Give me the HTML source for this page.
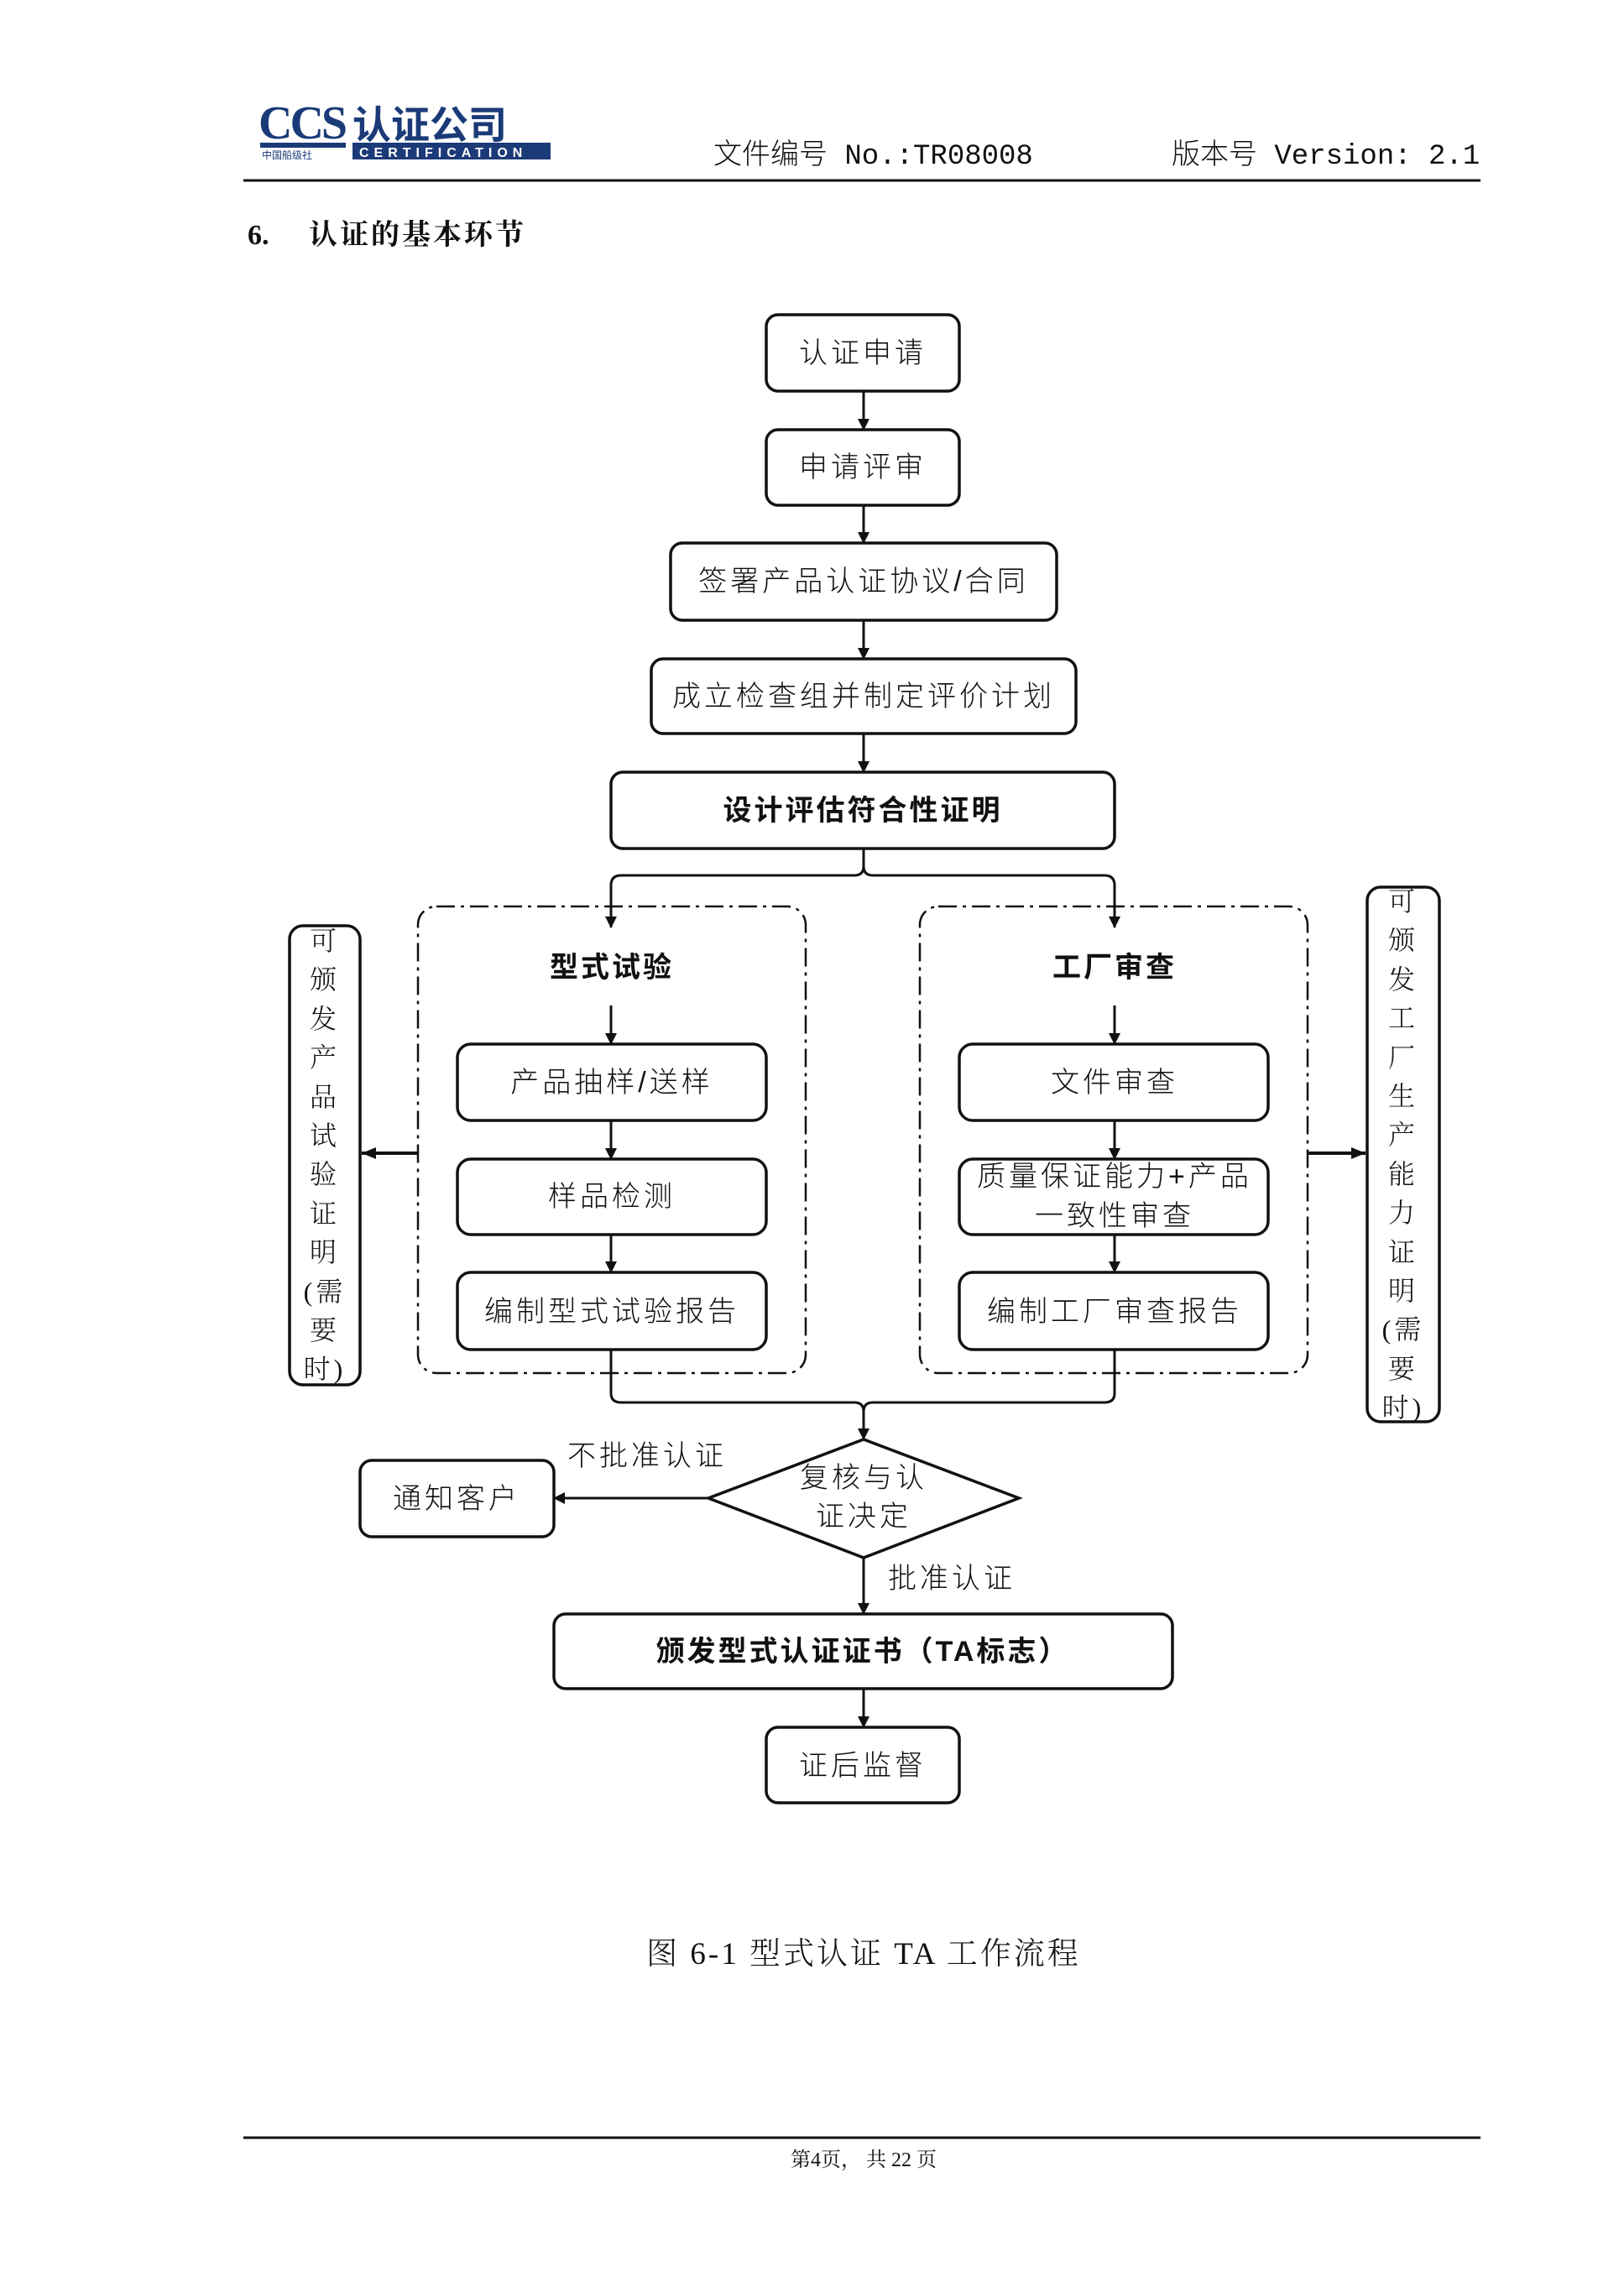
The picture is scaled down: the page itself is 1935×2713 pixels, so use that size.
<!DOCTYPE html>
<html><head><meta charset="utf-8"><style>
html,body{margin:0;padding:0;background:#fff;}
svg{display:block;}
text{font-family:"Liberation Serif","Noto Serif CJK SC","Noto Sans CJK SC",serif;fill:#111;}
.t{font-family:"Liberation Sans","Noto Sans CJK SC",sans-serif;font-size:34px;letter-spacing:4px;font-weight:300;}
.b{font-family:"Liberation Sans","Noto Sans CJK SC",sans-serif;font-size:34px;font-weight:700;letter-spacing:3px;}
.box{fill:#fff;stroke:#111;stroke-width:3.5;}
.ln{stroke:#111;stroke-width:3;fill:none;}
.dash{fill:none;stroke:#111;stroke-width:2.5;stroke-dasharray:22 7 4 7;}
</style></head><body>
<svg width="1935" height="2713" viewBox="0 0 1935 2713" xmlns="http://www.w3.org/2000/svg">
<defs><marker id="a" markerWidth="14" markerHeight="16" refX="13" refY="7" orient="auto" markerUnits="userSpaceOnUse"><path d="M0,0 L14,7 L0,14 z" fill="#111"/></marker>
<marker id="ar" markerWidth="18" markerHeight="18" refX="17" refY="9" orient="auto" markerUnits="userSpaceOnUse"><path d="M0,2 L17,9 L0,16 z" fill="#111"/></marker></defs>

<!-- header -->
<text x="308" y="165" style="font-family:'Liberation Serif',serif;font-weight:700;font-size:56px;fill:#1b3a78;letter-spacing:-3px">CCS</text>
<text x="420" y="165" style="font-family:'Noto Sans CJK SC',sans-serif;font-weight:700;font-size:46px;fill:#1b3a78">认证公司</text>
<rect x="310" y="170" width="102" height="6" fill="#1b3a78"/>
<text x="312" y="189" style="font-family:'Noto Sans CJK SC',sans-serif;font-size:12px;fill:#1b3a78">中国船级社</text>
<rect x="420" y="170" width="236" height="20" fill="#1b3a78"/>
<text x="428" y="187" style="font-family:'Liberation Sans',sans-serif;font-weight:700;font-size:16px;fill:#fff;letter-spacing:6px">CERTIFICATION</text>
<text x="850" y="195" style="font-family:'Liberation Mono','Noto Sans CJK SC',monospace;font-size:34px;font-weight:300">文件编号 No.:TR08008</text>
<text x="1396" y="195" style="font-family:'Liberation Mono','Noto Sans CJK SC',monospace;font-size:34px;font-weight:300">版本号 Version: 2.1</text>
<line x1="290" y1="215" x2="1764" y2="215" stroke="#111" stroke-width="3"/>
<text x="295" y="291" style="font-size:34px;font-weight:700">6.</text>
<text x="368" y="291" style="font-family:'Liberation Serif','Noto Serif CJK SC',serif;font-size:34px;font-weight:700;letter-spacing:3px">认证的基本环节</text>

<!-- main boxes -->
<rect class="box" x="913" y="375" width="230" height="91" rx="14"/>
<text class="t" x="1028" y="432" text-anchor="middle">认证申请</text>
<rect class="box" x="913" y="512" width="230" height="90" rx="14"/>
<text class="t" x="1028" y="568" text-anchor="middle">申请评审</text>
<rect class="box" x="799" y="647" width="460" height="92" rx="14"/>
<text class="t" x="1029" y="704" text-anchor="middle">签署产品认证协议/合同</text>
<rect class="box" x="776" y="785" width="506" height="89" rx="14"/>
<text class="t" x="1029" y="841" text-anchor="middle">成立检查组并制定评价计划</text>
<rect class="box" x="728" y="920" width="600" height="91" rx="14"/>
<text class="b" x="1028" y="977" text-anchor="middle">设计评估符合性证明</text>

<line class="ln" x1="1029" y1="466" x2="1029" y2="512" marker-end="url(#a)"/>
<line class="ln" x1="1029" y1="602" x2="1029" y2="647" marker-end="url(#a)"/>
<line class="ln" x1="1029" y1="739" x2="1029" y2="785" marker-end="url(#a)"/>
<line class="ln" x1="1029" y1="874" x2="1029" y2="920" marker-end="url(#a)"/>

<path class="ln" d="M1029,1011 V1032 Q1029,1043 1018,1043 H740 Q728,1043 728,1055 V1105" marker-end="url(#a)"/>
<path class="ln" d="M1029,1011 V1032 Q1029,1043 1040,1043 H1316 Q1328,1043 1328,1055 V1105" marker-end="url(#a)"/>

<!-- dashed containers -->
<rect class="dash" x="498" y="1080" width="462" height="556" rx="22"/>
<rect class="dash" x="1096" y="1080" width="462" height="556" rx="22"/>
<text class="b" x="729" y="1164" text-anchor="middle">型式试验</text>
<text class="b" x="1328" y="1164" text-anchor="middle">工厂审查</text>

<line class="ln" x1="728" y1="1198" x2="728" y2="1244" marker-end="url(#a)"/>
<line class="ln" x1="1328" y1="1198" x2="1328" y2="1244" marker-end="url(#a)"/>

<rect class="box" x="545" y="1244" width="368" height="91" rx="16"/>
<text class="t" x="729" y="1301" text-anchor="middle">产品抽样/送样</text>
<rect class="box" x="545" y="1381" width="368" height="90" rx="16"/>
<text class="t" x="729" y="1437" text-anchor="middle">样品检测</text>
<rect class="box" x="545" y="1516" width="368" height="92" rx="16"/>
<text class="t" x="729" y="1574" text-anchor="middle">编制型式试验报告</text>
<line class="ln" x1="728" y1="1335" x2="728" y2="1381" marker-end="url(#a)"/>
<line class="ln" x1="728" y1="1471" x2="728" y2="1516" marker-end="url(#a)"/>

<rect class="box" x="1143" y="1244" width="368" height="91" rx="16"/>
<text class="t" x="1328" y="1301" text-anchor="middle">文件审查</text>
<rect class="box" x="1143" y="1381" width="368" height="90" rx="16"/>
<text class="t" x="1328" y="1413" text-anchor="middle">质量保证能力+产品</text>
<text class="t" x="1328" y="1460" text-anchor="middle">一致性审查</text>
<rect class="box" x="1143" y="1516" width="368" height="92" rx="16"/>
<text class="t" x="1328" y="1574" text-anchor="middle">编制工厂审查报告</text>
<line class="ln" x1="1328" y1="1335" x2="1328" y2="1381" marker-end="url(#a)"/>
<line class="ln" x1="1328" y1="1471" x2="1328" y2="1516" marker-end="url(#a)"/>

<!-- side boxes -->
<line x1="498" y1="1374" x2="431" y2="1374" stroke="#111" stroke-width="4" marker-end="url(#ar)"/>
<line x1="1558" y1="1374" x2="1627" y2="1374" stroke="#111" stroke-width="4" marker-end="url(#ar)"/>
<rect class="box" x="345" y="1103" width="84" height="547" rx="16"/>
<rect class="box" x="1629" y="1057" width="86" height="637" rx="16"/>
<g class="t" text-anchor="middle" style="font-family:'Liberation Sans','Noto Sans CJK SC',sans-serif;font-size:32px;font-weight:300">
<text x="387" y="1132">可</text><text x="387" y="1178">颁</text><text x="387" y="1225">发</text><text x="387" y="1271">产</text><text x="387" y="1318">品</text><text x="387" y="1364">试</text><text x="387" y="1410">验</text><text x="387" y="1457">证</text><text x="387" y="1503">明</text><text x="387" y="1550">(需</text><text x="387" y="1596">要</text><text x="387" y="1642">时)</text>
<text x="1672" y="1085">可</text><text x="1672" y="1131">颁</text><text x="1672" y="1178">发</text><text x="1672" y="1224">工</text><text x="1672" y="1271">厂</text><text x="1672" y="1317">生</text><text x="1672" y="1363">产</text><text x="1672" y="1410">能</text><text x="1672" y="1456">力</text><text x="1672" y="1503">证</text><text x="1672" y="1549">明</text><text x="1672" y="1595">(需</text><text x="1672" y="1642">要</text><text x="1672" y="1688">时)</text>
</g>

<!-- merge -->
<path class="ln" d="M728,1608 V1660 Q728,1671 740,1671 H1018 Q1029,1671 1029,1682 V1715" marker-end="url(#a)"/>
<path class="ln" d="M1328,1608 V1660 Q1328,1671 1316,1671 H1040 Q1029,1671 1029,1682"/>

<!-- diamond -->
<polygon points="1029,1715 1214,1785 1029,1856 844,1785" fill="#fff" stroke="#111" stroke-width="3.5"/>
<text class="t" x="1029" y="1772" text-anchor="middle">复核与认</text>
<text class="t" x="1029" y="1818" text-anchor="middle">证决定</text>

<line class="ln" x1="844" y1="1785" x2="660" y2="1785" marker-end="url(#a)"/>
<text class="t" x="771" y="1746" text-anchor="middle">不批准认证</text>
<rect class="box" x="429" y="1740" width="231" height="91" rx="14"/>
<text class="t" x="544" y="1797" text-anchor="middle">通知客户</text>

<line class="ln" x1="1029" y1="1856" x2="1029" y2="1923" marker-end="url(#a)"/>
<text class="t" x="1134" y="1892" text-anchor="middle">批准认证</text>
<rect class="box" x="660" y="1923" width="737" height="89" rx="14"/>
<text class="b" x="1028" y="1979" text-anchor="middle">颁发型式认证证书（TA标志）</text>
<line class="ln" x1="1029" y1="2012" x2="1029" y2="2058" marker-end="url(#a)"/>
<rect class="box" x="913" y="2058" width="230" height="90" rx="14"/>
<text class="t" x="1028" y="2115" text-anchor="middle">证后监督</text>

<text x="1029" y="2340" text-anchor="middle" style="font-family:'Liberation Serif','Noto Serif CJK SC',serif;font-size:37px;font-weight:300;letter-spacing:3px">图 6-1 型式认证 TA 工作流程</text>

<line x1="290" y1="2547" x2="1764" y2="2547" stroke="#111" stroke-width="3"/>
<text x="1029" y="2581" text-anchor="middle" style="font-family:'Liberation Serif','Noto Serif CJK SC',serif;font-size:24px">第4页， 共 22 页</text>
</svg>
</body></html>
